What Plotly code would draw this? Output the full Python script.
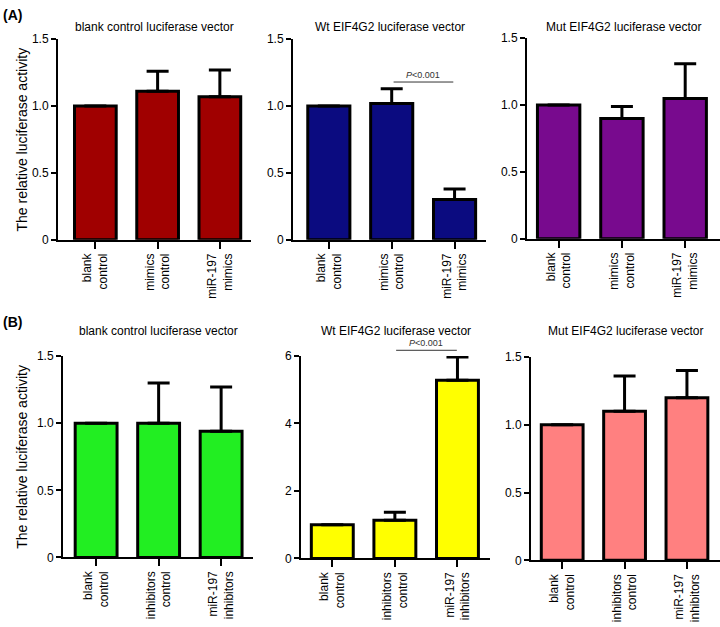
import plotly.graph_objects as go

W, H = 720, 627

# ---------------- data ----------------
titles = ["blank control luciferase vector", "Wt EIF4G2 luciferase vector", "Mut EIF4G2 luciferase vector",
          "blank control luciferase vector", "Wt EIF4G2 luciferase vector", "Mut EIF4G2 luciferase vector"]

cats_A = ["blank<br>control", "mimics<br>control", "miR-197<br>mimics"]
cats_B = ["blank<br>control", "inhibitors<br>control", "miR-197<br>inhibitors"]

A1_vals = [1.00, 1.11, 1.07]
A1_err = [0.00, 0.15, 0.20]
A2_vals = [1.00, 1.02, 0.30]
A2_err = [0.00, 0.11, 0.08]
A3_vals = [1.00, 0.90, 1.05]
A3_err = [0.00, 0.09, 0.26]
B1_vals = [1.00, 1.00, 0.94]
B1_err = [0.00, 0.30, 0.33]
B2_vals = [1.00, 1.13, 5.28]
B2_err = [0.00, 0.24, 0.69]
B3_vals = [1.00, 1.10, 1.20]
B3_err = [0.00, 0.26, 0.20]

y_ticks_small = [0, 0.5, 1.0, 1.5]
y_ticktext_small = ["0", "0.5", "1.0", "1.5"]
y_ticks_big = [0, 2, 4, 6]
y_ticktext_big = ["0", "2", "4", "6"]

p_text = "<i>P</i>&lt;0.001"
A2_pline = (1.03, 1.98, 1.18)   # x0, x1, y in data units
B2_pline = (1.02, 1.99, 6.17)

colors = ["#A00000", "#0B0B80", "#780A8E", "#22EE22", "#FFFF00", "#FF8080"]

# ---------------- layout geometry (pixels) ----------------
panels = [
    dict(x0=58, x1=251, yt=33, yb=238, xr=[-0.6, 2.5], yr=[0, 1.5]),
    dict(x0=293, x1=486, yt=33, yb=238, xr=[-0.57, 2.5], yr=[0, 1.5]),
    dict(x0=527, x1=720, yt=32, yb=237, xr=[-0.5, 2.55], yr=[0, 1.5]),
    dict(x0=63, x1=253, yt=357, yb=563, xr=[-0.53, 2.51], yr=[0, 1.5]),
    dict(x0=301, x1=490, yt=357, yb=564, xr=[-0.5, 2.52], yr=[0, 6]),
    dict(x0=531, x1=720, yt=358, yb=566, xr=[-0.5, 2.53], yr=[0, 1.5]),
]

series = [(cats_A, A1_vals, A1_err), (cats_A, A2_vals, A2_err), (cats_A, A3_vals, A3_err),
          (cats_B, B1_vals, B1_err), (cats_B, B2_vals, B2_err), (cats_B, B3_vals, B3_err)]

FONT = "Arial, Liberation Sans, sans-serif"

fig = go.Figure()
layout = dict(width=W, height=H, margin=dict(l=0, r=0, t=0, b=0),
              paper_bgcolor="white", plot_bgcolor="white", showlegend=False,
              font=dict(family=FONT, color="black"), bargap=0)
annotations = []
shapes = []

for i, (p, (cats, vals, errs)) in enumerate(zip(panels, series)):
    n = i + 1
    xa = "x" if n == 1 else f"x{n}"
    ya = "y" if n == 1 else f"y{n}"
    fig.add_trace(go.Bar(
        x=list(range(len(cats))), y=vals, width=0.67,
        marker=dict(color=colors[i], line=dict(color="black", width=3)),
        error_y=dict(type="data", symmetric=False, array=errs, arrayminus=[0] * len(errs),
                     color="black", thickness=3, width=11, visible=True),
        xaxis=xa, yaxis=ya, cliponaxis=False))
    xd = [p["x0"] / W, p["x1"] / W]
    yd = [1 - p["yb"] / H, 1 - p["yt"] / H]
    big = p["yr"][1] > 2
    layout[f"xaxis{'' if n == 1 else n}"] = dict(
        domain=xd, range=p["xr"], anchor=ya, showline=True, linecolor="black", linewidth=2,
        ticks="outside", ticklen=7, tickwidth=2, tickcolor="black", showgrid=False, zeroline=False,
        tickvals=list(range(len(cats))), ticktext=cats, tickangle=-90,
        tickfont=dict(size=12, family=FONT, color="black"), fixedrange=True)
    layout[f"yaxis{'' if n == 1 else n}"] = dict(
        domain=yd, range=p["yr"], anchor=xa, showline=True, linecolor="black", linewidth=2,
        ticks="outside", ticklen=5, tickwidth=2, tickcolor="black", showgrid=False, zeroline=False,
        tickvals=y_ticks_big if big else y_ticks_small,
        ticktext=y_ticktext_big if big else y_ticktext_small,
        tickfont=dict(size=12, family=FONT, color="black"), fixedrange=True)
    title_y = 20 if i < 3 else 331
    annotations.append(dict(text=titles[i], xref="paper", yref="paper",
                            x=(xd[0] + xd[1]) / 2, y=1 - title_y / H, showarrow=False,
                            xanchor="center", yanchor="middle", font=dict(size=12, family=FONT)))
    if i in (0, 3):
        annotations.append(dict(text="The relative luciferase activity", xref="paper", yref="paper",
                                x=22 / W, y=(yd[0] + yd[1]) / 2, textangle=-90, showarrow=False,
                                xanchor="center", yanchor="middle", font=dict(size=14, family=FONT)))

for idx, pl in ((1, A2_pline), (4, B2_pline)):
    p = panels[idx]
    n = idx + 1
    yd0 = 1 - p["yb"] / H
    yd1 = 1 - p["yt"] / H
    ypaper = yd0 + (pl[2] - p["yr"][0]) / (p["yr"][1] - p["yr"][0]) * (yd1 - yd0)
    shapes.append(dict(type="line", xref=f"x{n}", yref="paper", x0=pl[0], x1=pl[1],
                       y0=ypaper, y1=ypaper, line=dict(color="#333333", width=1)))
    annotations.append(dict(text=p_text, xref=f"x{n}", yref="paper", x=(pl[0] + pl[1]) / 2,
                            y=ypaper + 7.5 / H, showarrow=False, xanchor="center", yanchor="middle",
                            font=dict(size=9, family=FONT, color="#333333")))

annotations.append(dict(text="<b>(A)</b>", xref="paper", yref="paper", x=1 / W, y=1 - 8 / H,
                        showarrow=False, xanchor="left", yanchor="middle", font=dict(size=14, family=FONT)))
annotations.append(dict(text="<b>(B)</b>", xref="paper", yref="paper", x=1 / W, y=1 - 322 / H,
                        showarrow=False, xanchor="left", yanchor="middle", font=dict(size=14, family=FONT)))

layout["annotations"] = annotations
layout["shapes"] = shapes
fig.update_layout(**layout)
fig.write_html("out.html", config={"displayModeBar": False, "staticPlot": True},
               post_script="document.body.style.margin='0';document.body.style.overflow='hidden';")
